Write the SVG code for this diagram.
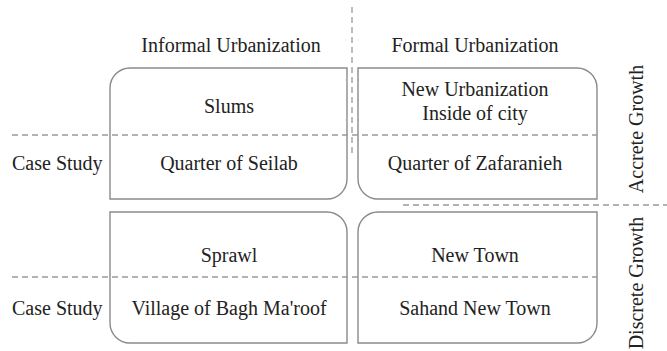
<svg xmlns="http://www.w3.org/2000/svg" width="667" height="351" viewBox="0 0 667 351">
<style>
text{font-family:'Liberation Serif','DejaVu Serif','Noto Serif','Times New Roman',serif;font-size:20px;fill:#222}
.c{text-anchor:middle}
.box{fill:#fff;stroke:#8a8a8a;stroke-width:1.4}
.dash{stroke:#9a9a9a;stroke-width:1.3;stroke-dasharray:6 4;fill:none}
</style>
<rect width="667" height="351" fill="#fff"/>
<g id="n-informal-accrete">
<path class="box" d="M130 68 H347 V179 A20 20 0 0 1 327 199 H110 V88 A20 20 0 0 1 130 68 Z"/>
<text class="c" x="229" y="113">Slums</text>
<text class="c" x="229" y="170">Quarter of Seilab</text>
</g>
<g id="n-formal-accrete">
<path class="box" d="M358 68 H577 A20 20 0 0 1 597 88 V199 H378 A20 20 0 0 1 358 179 Z"/>
<text class="c" x="475" y="96">New Urbanization</text>
<text class="c" x="475" y="120">Inside of city</text>
<text class="c" x="475" y="170">Quarter of Zafaranieh</text>
</g>
<g id="n-informal-discrete">
<path class="box" d="M110 212 H327 A20 20 0 0 1 347 232 V343 H130 A20 20 0 0 1 110 323 Z"/>
<text class="c" x="229" y="262">Sprawl</text>
<text class="c" x="229" y="315">Village of Bagh Ma'roof</text>
</g>
<g id="n-formal-discrete">
<path class="box" d="M378 212 H597 V323 A20 20 0 0 1 577 343 H358 V232 A20 20 0 0 1 378 212 Z"/>
<text class="c" x="475" y="262">New Town</text>
<text class="c" x="475" y="315">Sahand New Town</text>
</g>
<g id="connectors">
<line class="dash" x1="12" y1="135" x2="597" y2="135"/>
<line class="dash" x1="12" y1="277" x2="597" y2="277"/>
<line class="dash" x1="352" y1="7" x2="352" y2="155"/>
<line class="dash" x1="403" y1="205" x2="667" y2="205"/>
</g>
<g id="labels">
<text class="c" x="231" y="52">Informal Urbanization</text>
<text class="c" x="475" y="52">Formal Urbanization</text>
<text x="12" y="170">Case Study</text>
<text x="12" y="315">Case Study</text>
<text class="c" transform="translate(643 129) rotate(-90)">Accrete Growth</text>
<text class="c" transform="translate(643 283) rotate(-90)">Discrete Growth</text>
</g>
</svg>
